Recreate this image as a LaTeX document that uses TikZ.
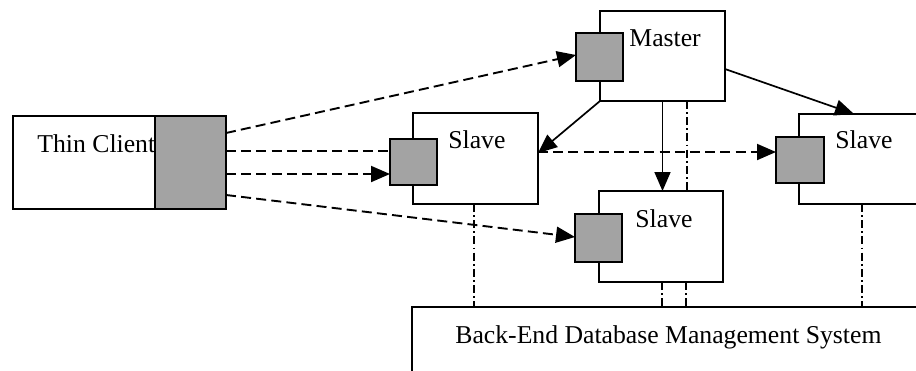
\documentclass[tikz,border=0pt]{standalone}
\usepackage{fontspec}
\setmainfont{Liberation Serif}
\usetikzlibrary{arrows.meta,calc}
\begin{document}
\begin{tikzpicture}[x=0.5pt,y=-0.5pt,
  box/.style={draw=black,fill=white,line width=0.95pt,inner sep=0pt,outer sep=0pt,rectangle},
  port/.style={draw=black,fill=black!36,line width=0.95pt,inner sep=0pt,outer sep=0pt,rectangle},
  lbl/.style={anchor=base west,inner sep=0pt,font=\fontsize{12.85}{15}\selectfont},
  dashedarrow/.style={line width=0.95pt,dash pattern=on 5pt off 2.6pt,-{Triangle[length=9.5pt,width=8pt]}},
  dashedline/.style={line width=0.95pt,dash pattern=on 5pt off 2.6pt},
  solidarrow/.style={line width=0.85pt,-{Triangle[length=9.5pt,width=8pt]}},
  dashdot/.style={line width=0.95pt,dash pattern=on 4pt off 1.6pt on 0.9pt off 1.6pt}]
\useasboundingbox (0,0) rectangle (916,370);
\clip (0,0) rectangle (916,370);
\fill[white] (0,0) rectangle (916,370);
% boxes
\node[box,minimum width=106.5pt,minimum height=46.5pt] (tc) at (119.5,162.5) {};
\node[port,minimum width=35.5pt,minimum height=46.5pt] (tcg) at (190.5,162.5) {};
\node[box,minimum width=62.5pt,minimum height=45.5pt] (s1) at (475.5,158.5) {};
\node[port,minimum width=23.5pt,minimum height=23pt] (s1g) at (413.5,162) {};
\node[box,minimum width=62.5pt,minimum height=45pt] (m) at (662.5,56) {};
\node[port,minimum width=23.5pt,minimum height=24pt] (mg) at (599.5,57) {};
\node[box,minimum width=62.5pt,minimum height=45pt] (rs) at (861.5,159) {};
\node[port,minimum width=24pt,minimum height=23pt] (rsg) at (800,160) {};
\node[box,minimum width=62pt,minimum height=45.5pt] (mb) at (661,236.5) {};
\node[port,minimum width=23.5pt,minimum height=24pt] (mbg) at (598.5,238) {};
\node[box,minimum width=259pt,minimum height=36pt] (be) at (671,343) {};
% labels
\node[lbl] (ltc) at (37,152) {Thin Client};
\node[lbl] (ls1) at (448,148) {Slave};
\node[lbl] (lm) at (629,46) {Master};
\node[lbl] (lrs) at (835,148) {Slave};
\node[lbl] (lmb) at (635,227) {Slave};
\node[lbl] (lbe) at (455,343) {Back-End Database Management System};
% dashed client connectors
\draw[dashedarrow] ([yshift=14.75pt]tcg.east) -- ([yshift=1pt]mg.west);
\draw[dashedline] ([yshift=5.75pt]tcg.east) -- ([yshift=5.5pt]s1g.west);
\draw[dashedarrow] ([yshift=3.25pt]s1.east) -- ([yshift=4pt]rsg.west);
\draw[dashedarrow] ([yshift=-5.75pt]tcg.east) -- ([yshift=-6pt]s1g.west);
\draw[dashedarrow] ([yshift=-16.25pt]tcg.east) -- ([yshift=0.5pt]mbg.west);
% master connectors
\draw[solidarrow] (m.south west) -- ([yshift=2.75pt]s1.east);
\draw[solidarrow] (m.south) -- (m.south |- mb.north);
\draw[solidarrow] ([yshift=-6.5pt]m.east) -- ([xshift=-3.75pt]rs.north);
% dash-dot database links
\draw[dashdot] ([xshift=-0.75pt]s1.south) -- ([xshift=-0.75pt]s1.south |- be.north);
\draw[dashdot] ([xshift=12.25pt]m.south) -- ([xshift=12.25pt]m.south |- mb.north);
\draw[dashdot] ([xshift=0.5pt]mb.south) -- ([xshift=0.5pt]mb.south |- be.north);
\draw[dashdot] ([xshift=12.5pt]mb.south) -- ([xshift=12.5pt]mb.south |- be.north);
\draw[dashdot] ([xshift=0.25pt]rs.south) -- ([xshift=0.25pt]rs.south |- be.north);
\end{tikzpicture}
\end{document}
